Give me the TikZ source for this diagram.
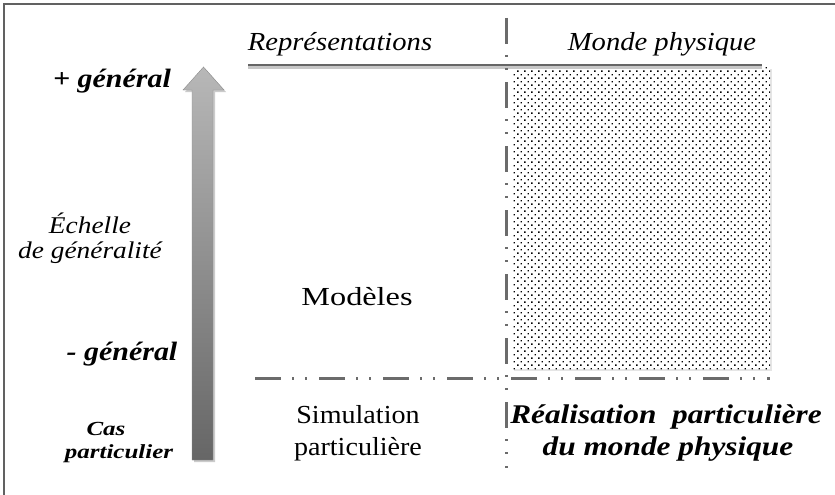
\documentclass[tikz,border=0pt]{standalone}
\usepackage{fontspec}
\setmainfont{Liberation Serif}
\usetikzlibrary{patterns.meta}
\tikzdeclarepattern{
  name=qdots,
  bounding box={(0,0) and (6.8pt,6.8pt)},
  tile size={(6.8pt,6.8pt)},
  code={\fill (0.2pt,0.2pt) rectangle (1.6pt,1.6pt);
        \fill (3.6pt,3.6pt) rectangle (5.0pt,5.0pt);}
}
\begin{document}
\begin{tikzpicture}[x=1pt,y=1pt,
  lbl/.style={inner sep=0pt, anchor=base, align=center},
  head/.style={lbl, font=\fontsize{26}{28}\selectfont\itshape, xscale=1.1},
  side/.style={lbl, font=\fontsize{24}{26}\selectfont\itshape, xscale=1.14},
  sideb/.style={lbl, font=\fontsize{26.5}{28}\selectfont\bfseries\itshape, xscale=1.13},
  small/.style={lbl, font=\fontsize{20}{23}\selectfont\bfseries\itshape, xscale=1.25},
  body/.style={lbl, font=\fontsize{26}{32}\selectfont, xscale=1.08},
  bodyb/.style={lbl, font=\fontsize{27}{32}\selectfont\bfseries\itshape, xscale=1.16},
  divider/.style={draw=black!58, line width=3pt, dash pattern=on 26pt off 11pt on 2pt off 11pt on 2pt off 12pt},
  rule/.style={draw=black!60, line width=2.6pt},
  frame/.style={draw=black!62, line width=1.3pt}
]
\useasboundingbox (0,0) rectangle (835,-495);
\clip (0,0) rectangle (835,-495);
\fill[white] (0,0) rectangle (835,-495);
\draw[frame] (4,-4) rectangle (850,-510);

% dotted region
\fill[black!10] (514,-69) rectangle (772,-371);
\fill[white] (512,-67) rectangle (770,-369);
\fill[pattern=qdots, pattern color=black] (512,-67) rectangle (770,-369);

% top rule
\draw[black!22, line width=2.6pt] (248,-67.5) -- (762,-67.5);
\draw[rule] (248,-65) -- (762,-65);

% dividers
\coordinate (vtop) at (506,-18);
\coordinate (vbot) at (506,-468);
\coordinate (hl) at (255,-378);
\coordinate (hr) at (770,-378);
\draw[divider] (vtop) -- (vbot);
\draw[divider] (hl) -- (hr);

% arrow
\fill[black!40, opacity=0.5] (194,-462) -- (194,-92) -- (185,-92) -- (205.5,-69) -- (226,-92) -- (215,-92) -- (215,-462) -- cycle;
\shade[top color=black!28, bottom color=black!60, draw=black!45, line width=0.4pt]
  (192,-460) -- (192,-90) -- (183,-90) -- (203.5,-67) -- (224,-90) -- (213,-90) -- (213,-460) -- cycle;

% labels
\node[head] (rep) at (340,-51) {Représentations};
\node[head] (monde) at (662,-51) {Monde physique};
\node[sideb] (plus) at (112,-88) {+ général};
\node[side] (ech) at (90,-233) {Échelle};
\node[side] (degen) at (90,-258) {de généralité};
\node[sideb] (moins) at (122,-360) {- général};
\node[small] (cas) at (106,-435) {Cas};
\node[small] (part) at (119,-458) {particulier};
\node[body, xscale=1.15] (mod) at (357,-305) {Modèles};
\node[body] (sim) at (358,-423) {Simulation};
\node[body] (simp) at (358,-455) {particulière};
\node[bodyb] (real) at (666,-423) {Réalisation\ \ particulière};
\node[bodyb] (realm) at (668,-455) {du monde physique};
\end{tikzpicture}
\end{document}
